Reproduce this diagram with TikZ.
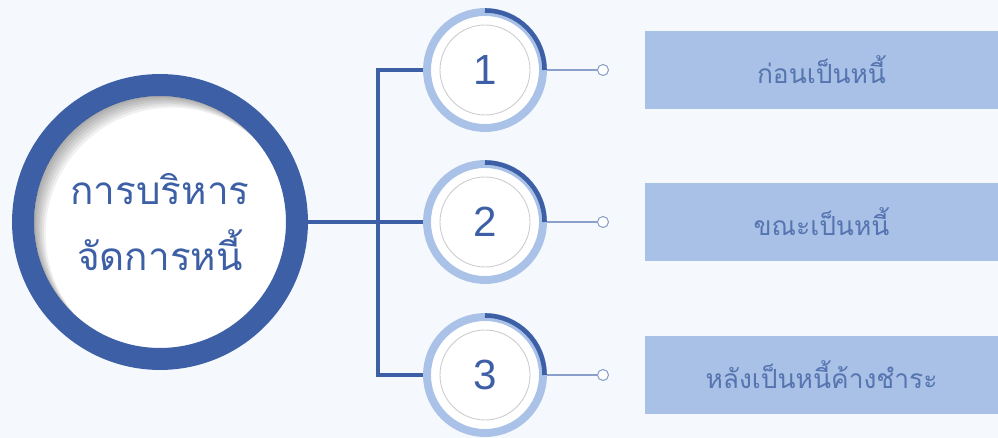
\documentclass[tikz,border=0pt]{standalone}
\usepackage{fontspec}
\setmainfont{Liberation Sans}
\newfontfamily\thaifont[Script=Thai]{Loma}
\usepackage{tikz}
\usetikzlibrary{positioning}

\definecolor{bgblue}{HTML}{F5F8FC}
\definecolor{darkblue}{HTML}{3D5FA6}
\definecolor{ringblue}{HTML}{AAC2E7}
\definecolor{boxblue}{HTML}{A9C1E6}
\definecolor{textblue}{HTML}{5574B0}

\begin{document}
\begin{tikzpicture}[x=0.02cm,y=-0.02cm,
  mainring/.style={circle,draw=darkblue,line width=12.5pt,fill=white,minimum size=5.48cm,inner sep=0pt,
    text=darkblue,align=center,font=\thaifont\fontsize{22}{38}\selectfont},
  numring/.style={circle,draw=ringblue,line width=4.5pt,fill=white,minimum size=2.32cm,inner sep=0pt,
    text=darkblue,font=\fontsize{24}{28}\selectfont},
  trunk/.style={darkblue,line width=2pt},
  twig/.style={darkblue!60,line width=0.8pt},
  dot/.style={circle,draw=darkblue!60,line width=0.6pt,fill=white,minimum size=0.22cm,inner sep=0pt},
  stepbox/.style={rectangle,fill=boxblue,minimum width=7.06cm,minimum height=1.56cm,inner sep=0pt,
    text=textblue,font=\thaifont\fontsize{15}{18}\selectfont}]
\useasboundingbox[fill=bgblue] (0,0) rectangle (998,438);

\node[mainring] (main) at (160,222) {การบริหาร\\จัดการหนี้};
\begin{scope}
\clip (160,222) circle[radius=126];
\foreach \d in {2,4,...,12}
  \draw[black,opacity=0.06,line width=11pt] ({160+\d},{222+\d}) circle[radius=136];
\end{scope}

\coordinate (jn) at (378,222);
\draw[trunk] (main) -- (jn);

\foreach \i/\y/\txt in {1/70/ก่อนเป็นหนี้, 2/222/ขณะเป็นหนี้, 3/375/หลังเป็นหนี้ค้างชำระ}{
  \node[numring] (n\i) at (485,\y) {\i};
  \draw[gray!40,line width=0.5pt] (485,\y) circle[radius=45];
  \draw[darkblue,line width=2.6pt] (485,\y) ++(270:59.5) arc[start angle=270,end angle=360,radius=59.5];
  \draw[trunk] (jn) |- (n\i);
  \node[dot] (d\i) at (603,\y) {};
  \draw[twig] (n\i) -- (d\i);
  \node[stepbox] (b\i) at (821.5,\y) {\txt};
}
\end{tikzpicture}
\end{document}
